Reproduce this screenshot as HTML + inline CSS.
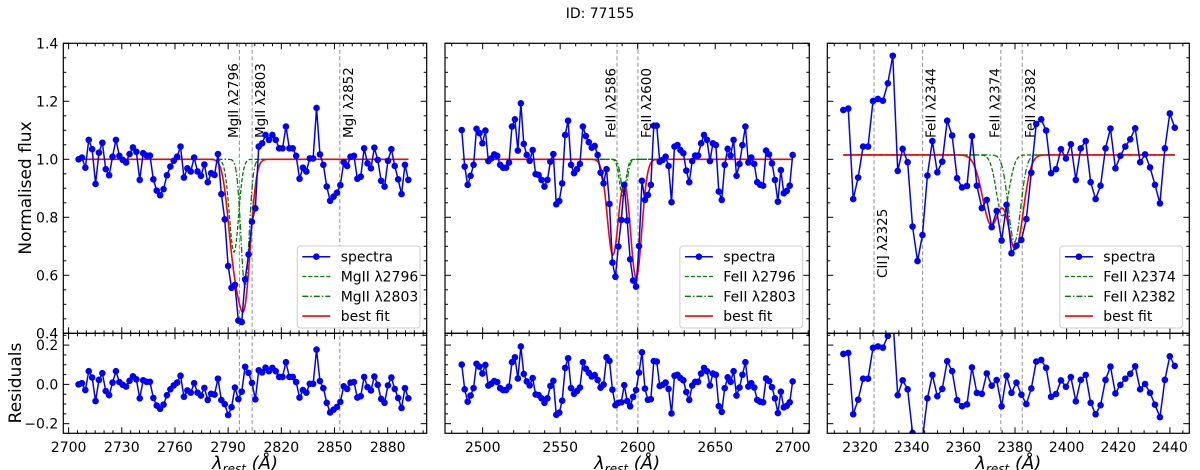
<!DOCTYPE html>
<html><head><meta charset="utf-8"><style>
html,body{margin:0;padding:0;background:#fff;}
svg{display:block;font-family:"DejaVu Sans","Liberation Sans",sans-serif;}
</style></head><body>
<svg id="fig" width="1200" height="470" viewBox="0 0 1200 470" xmlns="http://www.w3.org/2000/svg">
<text x="600" y="18" text-anchor="middle" font-size="14">ID: 77155</text>
<text transform="translate(31,188) rotate(-90)" text-anchor="middle" font-size="17">Normalised flux</text>
<text transform="translate(21,383) rotate(-90)" text-anchor="middle" font-size="17">Residuals</text>
</svg>
<script>
// ---------- data ----------
const p1Lam0 = 2705.6, p1Step = 1.918;
const p1Flux = [1.000,1.006,0.971,1.067,1.035,0.915,1.023,1.057,0.966,0.945,
1.009,1.067,1.012,0.998,0.989,1.018,1.041,1.026,0.929,1.021,
1.013,1.013,0.931,0.892,0.876,0.897,0.945,0.975,0.995,1.009,
1.044,0.937,0.969,0.958,1.006,0.958,0.943,0.982,0.921,0.952,
0.946,1.018,0.880,0.793,0.632,0.557,0.567,0.444,0.439,0.586,
0.672,0.785,0.831,1.044,1.055,1.084,1.067,1.084,1.067,1.038,
1.038,1.113,1.038,1.038,1.012,0.933,0.971,0.958,1.003,1.003,
1.177,1.017,0.981,0.906,0.857,0.871,0.885,0.911,0.990,0.977,
1.009,1.012,0.933,0.940,1.038,0.986,0.969,1.040,0.998,0.926,
0.906,0.995,1.035,0.977,0.931,0.880,0.981,0.929];
const p1Cont = 1.0;
const p1FitCenters = [2793.3, 2799.5];
const p1FitDepths = [0.32, 0.44];
const p1FitSigmas = [3.5, 3.3];
const p1CompCenters = [2793.3, 2799.5];
const p1CompDepths = [0.32, 0.44];
const p1CompSigmas = [2.6, 2.3];
const p1Lines = [2796.35, 2803.53, 2852.96];
const p1LineLabels = ["MgII λ2796","MgII λ2803","MgI λ2852"];
const p1LabelSide = [-1, 1, 1];
const p1Legend = ["spectra","MgII λ2796","MgII λ2803","best fit"];
const p1Ticks = [2700,2730,2760,2790,2820,2850,2880];

const p2Lam0 = 2486.5, p2Step = 1.906;
const p2Flux = [1.101,0.975,0.912,0.943,0.981,1.105,1.090,1.055,1.099,0.994,
1.003,1.017,1.012,0.981,0.971,0.971,0.989,1.113,1.138,1.030,
1.193,1.053,1.015,0.995,1.032,0.949,0.946,0.929,0.906,0.929,
0.992,1.018,0.845,0.856,0.917,1.084,1.133,0.981,0.952,0.966,
0.984,1.113,1.080,1.059,1.040,1.046,1.015,0.954,0.917,0.966,
0.846,0.644,0.595,0.699,0.791,0.912,0.789,0.655,0.582,0.561,
0.701,0.926,0.860,0.877,0.912,1.116,1.116,0.992,0.998,1.009,
0.977,0.852,1.044,1.049,1.032,1.021,0.961,0.921,0.994,1.013,
1.013,1.055,1.084,1.067,0.994,1.055,1.049,0.889,0.860,0.981,
1.036,1.013,1.067,0.943,0.984,1.049,1.113,0.989,1.006,0.984,
0.921,0.912,0.909,1.030,1.017,0.986,0.929,0.854,0.963,0.883,
0.891,0.909,1.015];
const p2Cont = 1.0;
const p2FitCenters = [2584.0, 2599.0];
const p2FitDepths = [0.33, 0.41];
const p2FitSigmas = [3.6, 3.6];
const p2CompCenters = [2590.3, 2591.2];
const p2CompDepths = [0.13, 0.12];
const p2CompSigmas = [2.0, 2.0];
const p2Lines = [2586.65, 2600.17];
const p2LineLabels = ["FeII λ2586","FeII λ2600"];
const p2LabelSide = [-1, 1];
const p2Legend = ["spectra","FeII λ2796","FeII λ2803","best fit"];
const p2Ticks = [2500,2550,2600,2650,2700];

const p3Lam0 = 2313.5, p3Step = 1.916;
const p3Flux = [1.170,1.175,0.863,0.937,1.044,1.044,1.201,1.208,1.202,1.262,
1.357,0.960,1.036,0.990,0.768,0.649,0.739,0.944,1.063,0.955,
0.992,1.133,1.082,0.935,0.903,0.908,1.080,0.909,0.832,0.860,
0.766,0.822,0.720,0.843,0.676,0.702,0.722,0.794,0.954,1.122,
1.138,1.099,0.952,0.966,1.035,1.003,1.052,0.929,1.038,1.063,
0.921,0.863,0.909,1.038,1.106,0.969,1.012,1.044,1.069,1.107,
0.990,1.017,0.972,0.912,0.848,1.038,1.158,1.109];
const p3Cont = 1.015;
const p3FitCenters = [2370.8, 2380.2];
const p3FitDepths = [0.24, 0.32];
const p3FitSigmas = [3.4, 3.0];
const p3CompCenters = [2375.2, 2379.8];
const p3CompDepths = [0.21, 0.30];
const p3CompSigmas = [2.4, 2.4];
const p3Lines = [2325.4, 2344.2, 2374.5, 2382.8];
const p3LineLabels = ["CII] λ2325","FeII λ2344","FeII λ2374","FeII λ2382"];
const p3LabelSide = [1, 1, -1, 1];
const p3Legend = ["spectra","FeII λ2374","FeII λ2382","best fit"];
const p3Ticks = [2320,2340,2360,2380,2400,2420,2440];

const mainYTicks = [0.4,0.6,0.8,1.0,1.2,1.4];
const resYTicks = [-0.2,0.0,0.2];

// ---------- drawing ----------
const NS = "http://www.w3.org/2000/svg";
const svg = document.getElementById("fig");
const MT = 43.3, MB = 333.3, RB = 433.3;
const mainY = v => MB - (v - 0.4) / 1.0 * (MB - MT);
const resY = v => RB - (v + 0.249) / 0.509 * (RB - MB);

function mk(tag, attrs, parent) {
  const e = document.createElementNS(NS, tag);
  for (const k in attrs) e.setAttribute(k, attrs[k]);
  (parent || svg).appendChild(e);
  return e;
}
function gauss(x, c, d, s) { return d * Math.exp(-((x - c) ** 2) / (2 * s * s)); }
function model(x, cont, cs, ds, ss) {
  let v = cont;
  for (let i = 0; i < cs.length; i++) v -= gauss(x, cs[i], ds[i], ss[i]);
  return v;
}

function panel(id, geom, lam0, step, flux, cont, fc, fd, fs, cc, cd, cs, lines, lineLabels, labelY, labelSide, legend, ticks, minorStep, showY) {
  const [x0, x1, l0, l1] = geom;
  const X = l => x0 + (l - l0) / (l1 - l0) * (x1 - x0);
  const g = mk("g", {});
  
  
  const clipM = mk("clipPath", {id: id + "-cm"}, g);
  mk("rect", {x: x0, y: MT, width: x1 - x0, height: MB - MT}, clipM);
  const clipR = mk("clipPath", {id: id + "-cr"}, g);
  mk("rect", {x: x0, y: MB, width: x1 - x0, height: RB - MB}, clipR);
  const lams = flux.map((_, i) => lam0 + i * step);
  const fitAt = l => model(l, cont, fc, fd, fs);

  lines.forEach((l, i) => {
    const ln = mk("line", {x1: X(l), x2: X(l), y1: MT, y2: RB, stroke: "#999", "stroke-width": 1.1, "stroke-dasharray": "4,2.5"}, g);
    
    
    const ly = labelY[i];
    const bx = labelSide[i] < 0 ? X(l) - 1.5 : X(l) + 13;
    const t = mk("text", {transform: `translate(${bx},${ly}) rotate(-90)`, "font-size": 13.5, fill: "#000"}, g);
    t.textContent = lineLabels[i];
    
    
  });

  const N = 600;
  const pts = (fn) => { let s = ""; for (let k = 0; k <= N; k++) { const l = lams[0] + (lams[lams.length - 1] - lams[0]) * k / N; s += `${X(l).toFixed(2)},${mainY(fn(l)).toFixed(2)} `; } return s; };
  const c1 = mk("polyline", {points: pts(l => cont - gauss(l, cc[0], cd[0], cs[0])), fill: "none", stroke: "#008000", "stroke-width": 1.3, "stroke-dasharray": "4,2", "clip-path": `url(#${id}-cm)`}, g);
  
  
  const c2 = mk("polyline", {points: pts(l => cont - gauss(l, cc[1], cd[1], cs[1])), fill: "none", stroke: "#008000", "stroke-width": 1.3, "stroke-dasharray": "6,2,1.5,2", "clip-path": `url(#${id}-cm)`}, g);
  
  
  const bf = mk("polyline", {points: pts(fitAt), fill: "none", stroke: "#ff0000", "stroke-width": 1.6, "clip-path": `url(#${id}-cm)`}, g);
  
  

  const sp = mk("polyline", {points: lams.map((l, i) => `${X(l).toFixed(2)},${mainY(flux[i]).toFixed(2)}`).join(" "), fill: "none", stroke: "#0000ff", "stroke-width": 1.5, "clip-path": `url(#${id}-cm)`}, g);
  
  
  lams.forEach((l, i) => {
    const d = mk("circle", {cx: X(l), cy: mainY(flux[i]), r: 3.3, fill: "#0000ff", "clip-path": `url(#${id}-cm)`}, g);
    
    
  });
  const res = lams.map((l, i) => flux[i] - fitAt(l));
  const rl = mk("polyline", {points: lams.map((l, i) => `${X(l).toFixed(2)},${resY(res[i]).toFixed(2)}`).join(" "), fill: "none", stroke: "#0000ff", "stroke-width": 1.5, "clip-path": `url(#${id}-cr)`}, g);
  
  
  lams.forEach((l, i) => {
    const d = mk("circle", {cx: X(l), cy: resY(res[i]), r: 3.3, fill: "#0000ff", "clip-path": `url(#${id}-cr)`}, g);
    
    
  });

  const f1 = mk("rect", {x: x0, y: MT, width: x1 - x0, height: MB - MT, fill: "none", stroke: "#000", "stroke-width": 1.2}, g);
  
  
  const f2 = mk("rect", {x: x0, y: MB, width: x1 - x0, height: RB - MB, fill: "none", stroke: "#000", "stroke-width": 1.2}, g);
  
  

  const tk = (x, y1, y2) => mk("line", {x1: x, x2: x, y1: y1, y2: y2, stroke: "#000", "stroke-width": 1}, g);
  const first = Math.ceil(l0 / minorStep) * minorStep;
  for (let l = first; l <= l1; l += minorStep) {
    const x = X(l);
    const major = ticks.some(t => Math.abs(t - l) < 1e-6);
    const len = major ? 6 : 3;
    [MT, MB].forEach(y => tk(x, y, y + len));
    [MB, RB].forEach(y => tk(x, y, y - len));
  }
  ticks.forEach(t => {
    const tx = mk("text", {x: X(t), y: 452, "text-anchor": "middle", "font-size": 14}, g);
    tx.textContent = t;
    
    
  });
  const hk = (y, xa, xb) => mk("line", {x1: xa, x2: xb, y1: y, y2: y, stroke: "#000", "stroke-width": 1}, g);
  for (let v = 0.4; v <= 1.4001; v += 0.05) {
    const maj = Math.abs(v * 5 - Math.round(v * 5)) < 1e-6;
    const len = maj ? 6 : 3;
    hk(mainY(v), x0, x0 + len); hk(mainY(v), x1, x1 - len);
  }
  for (let v = -0.2; v <= 0.2501; v += 0.05) {
    const maj = Math.abs(v * 5 - Math.round(v * 5)) < 1e-6;
    const len = maj ? 6 : 3;
    hk(resY(v), x0, x0 + len); hk(resY(v), x1, x1 - len);
  }
  if (showY) {
    mainYTicks.forEach(v => {
      const t = mk("text", {x: x0 - 5, y: mainY(v) + 5, "text-anchor": "end", "font-size": 14}, g);
      t.textContent = v.toFixed(1);
      
      
    });
    resYTicks.forEach(v => {
      const t = mk("text", {x: x0 - 5, y: resY(v) + 5, "text-anchor": "end", "font-size": 14}, g);
      t.textContent = v < 0 ? "\u2212" + Math.abs(v).toFixed(1) : v.toFixed(1);
      
      
    });
  }
  const xl = mk("text", {x: (x0 + x1) / 2, y: 469, "text-anchor": "middle", "font-size": 18, "font-style": "italic"}, g);
  xl.innerHTML = 'λ<tspan font-size="12" dy="4">rest</tspan><tspan dy="-4"> (Å)</tspan>';
  
  

  const lx = x1 - 129.4, ly = 246;
  const lg = mk("g", {}, g);
  
  
  mk("rect", {x: lx, y: ly, width: 122.7, height: 82, rx: 3, fill: "#fff", "fill-opacity": 0.85, stroke: "#ccc", "stroke-width": 1}, lg);
  const styles = [
    {stroke: "#0000ff", "stroke-width": 1.5},
    {stroke: "#008000", "stroke-width": 1.3, "stroke-dasharray": "4,2"},
    {stroke: "#008000", "stroke-width": 1.3, "stroke-dasharray": "6,2,1.5,2"},
    {stroke: "#ff0000", "stroke-width": 1.6}];
  legend.forEach((lab, i) => {
    const yy = ly + 10.7 + i * 19.8;
    const e = mk("g", {}, lg);
    
    
    mk("line", Object.assign({x1: lx + 5, x2: lx + 33, y1: yy, y2: yy}, styles[i]), e);
    if (i === 0) mk("circle", {cx: lx + 19, cy: yy, r: 3.3, fill: "#0000ff"}, e);
    const t = mk("text", {x: lx + 43.4, y: yy + 5, "font-size": 14}, e);
    t.textContent = lab;
  });
}

panel("panel-mgii", [63.3, 426.7, 2697, 2902], p1Lam0, p1Step, p1Flux, p1Cont, p1FitCenters, p1FitDepths, p1FitSigmas, p1CompCenters, p1CompDepths, p1CompSigmas, p1Lines, p1LineLabels, [138, 138, 138], p1LabelSide, p1Legend, p1Ticks, 5, true);
panel("panel-feii-2600", [445, 809.3, 2475.7, 2710.7], p2Lam0, p2Step, p2Flux, p2Cont, p2FitCenters, p2FitDepths, p2FitSigmas, p2CompCenters, p2CompDepths, p2CompSigmas, p2Lines, p2LineLabels, [138, 138], p2LabelSide, p2Legend, p2Ticks, 10, false);
panel("panel-feii-2374", [827.3, 1189.3, 2307.3, 2447.5], p3Lam0, p3Step, p3Flux, p3Cont, p3FitCenters, p3FitDepths, p3FitSigmas, p3CompCenters, p3CompDepths, p3CompSigmas, p3Lines, p3LineLabels, [278, 138, 138, 138], p3LabelSide, p3Legend, p3Ticks, 5, false);
</script>
</body></html>
